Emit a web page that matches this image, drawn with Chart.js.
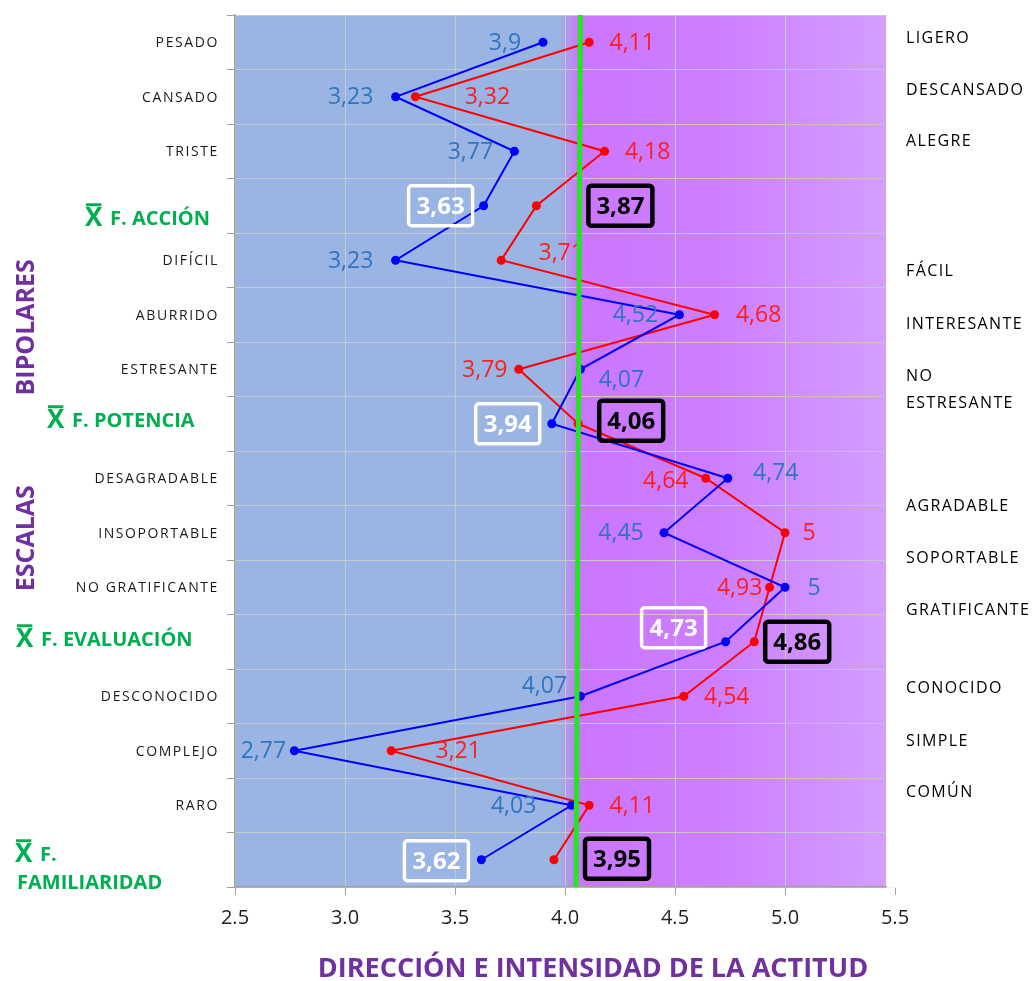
<!DOCTYPE html>
<html><head><meta charset="utf-8">
<script src="https://cdn.jsdelivr.net/npm/chart.js@4.4.1/dist/chart.umd.min.js"></script>
<style>html,body{margin:0;padding:0;background:#fff}#wrap{width:1036px;height:981px;position:relative}</style>
</head><body><div id="wrap"><canvas id="c" width="1036" height="981"></canvas></div>
<script>
// ---------- DATA ----------
const categories = ['PESADO','CANSADO','TRISTE','F. ACCIÓN','DIFÍCIL','ABURRIDO','ESTRESANTE','F. POTENCIA',
  'DESAGRADABLE','INSOPORTABLE','NO GRATIFICANTE','F. EVALUACIÓN','DESCONOCIDO','COMPLEJO','RARO','F. FAMILIARIDAD'];
const blueValues = [3.9,3.23,3.77,3.63,3.23,4.52,4.07,3.94,4.74,4.45,5,4.73,4.07,2.77,4.03,3.62];
const redValues  = [4.11,3.32,4.18,3.87,3.71,4.68,3.79,4.06,4.64,5,4.93,4.86,4.54,3.21,4.11,3.95];
const xTicks = [2.5,3.0,3.5,4.0,4.5,5.0,5.5];
const rightLabels = ['LIGERO','DESCANSADO','ALEGRE','FÁCIL','INTERESANTE',['NO','ESTRESANTE'],
  'AGRADABLE','SOPORTABLE','GRATIFICANTE','CONOCIDO','SIMPLE','COMÚN'];
const groupLabels = ['BIPOLARES','ESCALAS'];
const axisTitle = 'DIRECCIÓN E INTENSIDAD DE LA ACTITUD';
const referenceLine = [4.07, 4.05]; // top, bottom
const backgroundEnd = 5.46;

// ---------- LAYOUT (positions/styles) ----------
const rightLabelRows = [-0.07,0.88,1.82,4.2,5.17,6.37,8.51,9.48,10.42,11.85,12.82,13.77];
const groupLabelRows = [5.23,9.1];
const blueOffsets = [[-38,0],[-45,0],[-44,0],[-43,0],[-45,0],[-44,0],[41,10],[-44,0],[48,-6],[-43,0],[29,0],[-52,-14],[-36,-11],[-31,0],[-58,0],[-45,1]];
const redOffsets  = [[43,0],[72,0],[43,0],[84,0],[60,-8],[44,0],[-34,0],[53,-3],[-40,2],[24,0],[-30,0],[43,0],[43,0],[67,0],[43,0],[63,-1]];
const meanLayout = {3:{x:110,dy:13},7:{x:72,dy:-3},11:{x:41,dy:-2},15:{x:40,dy:-5,second:{x:17,dy:24}}};

const fmt = v => String(v).replace('.', ',');
function rowY(chart, i){ const y = chart.scales.y; const p0 = y.getPixelForValue(0), p1 = y.getPixelForValue(1); return p0 + i*(p1-p0); }

const decor = {
  id:'decor',
  beforeDraw(chart){
    const {ctx, chartArea:a, scales:{x}} = chart;
    const lx = x.getPixelForValue((referenceLine[0]+referenceLine[1])/2);
    const ex = x.getPixelForValue(backgroundEnd);
    const w = ex - a.left;
    const f = (lx - a.left)/w;
    const g = ctx.createLinearGradient(a.left,0,ex,0);
    g.addColorStop(0,'#9AB5E3');
    g.addColorStop(Math.max(0,f-0.03),'#9AB5E3');
    g.addColorStop(f,'#C67BF5');
    g.addColorStop(f+0.01,'#CB76FF');
    g.addColorStop(0.75,'#CD7FFF');
    g.addColorStop(1,'#D49EFF');
    ctx.save(); ctx.fillStyle = g; ctx.fillRect(a.left, a.top, w, a.bottom-a.top); ctx.restore();
  },
  beforeDatasetsDraw(chart){
    const {ctx, chartArea:a, scales:{x}} = chart;
    const ex = x.getPixelForValue(backgroundEnd);
    ctx.save(); ctx.fillStyle = '#fff'; ctx.fillRect(ex+0.5, a.top-2, a.right-ex+3, a.bottom-a.top+2.8); ctx.restore();
  },
  afterDatasetsDraw(chart){
    const {ctx, chartArea:a, scales:{x,y}} = chart;
    ctx.save();
    ctx.textBaseline = 'middle'; ctx.textAlign = 'center';
    const drawSet = (vals, offs, color, boxStyle) => {
      vals.forEach((v,i) => {
        const px = x.getPixelForValue(v), py = y.getPixelForValue(i);
        const cx = px + offs[i][0], cy = py + offs[i][1];
        const txt = fmt(v);
        if (categories[i].startsWith('F. ')) {
          ctx.font = 'bold 24px "Open Sans"';
          ctx.fillStyle = boxStyle.text;
          ctx.fillText(txt, cx, cy+1);
          ctx.strokeStyle = boxStyle.border; ctx.lineWidth = boxStyle.lw;
          ctx.beginPath(); ctx.roundRect(cx-32, cy-20, 64, 40, 3); ctx.stroke();
        } else {
          ctx.font = '23px "Open Sans"';
          ctx.fillStyle = color;
          ctx.fillText(txt, cx, cy+1);
        }
      });
    };
    drawSet(blueValues, blueOffsets, '#2E75C0', {text:'#fff', border:'#fff', lw:3.5});
    drawSet(redValues, redOffsets, '#FF1C1C', {text:'#000', border:'#000', lw:4.5});
    // reference line
    ctx.strokeStyle = '#22E622'; ctx.lineWidth = 5;
    ctx.beginPath();
    ctx.moveTo(x.getPixelForValue(referenceLine[0]), a.top);
    ctx.lineTo(x.getPixelForValue(referenceLine[1]), a.bottom);
    ctx.stroke();
    ctx.restore();
  },
  afterDraw(chart){
    const {ctx, chartArea:a, scales:{x,y}} = chart;
    ctx.save();
    ctx.textBaseline = 'middle';
    // left category labels
    categories.forEach((c,i) => {
      const py = y.getPixelForValue(i);
      if (c.startsWith('F. ')) {
        const m = meanLayout[i];
        const green = '#00B050';
        ctx.fillStyle = green; ctx.strokeStyle = green;
        ctx.letterSpacing = '0px';
        const ty = py + m.dy;
        // X with bar
        ctx.font = 'bold 26px "Open Sans"'; ctx.textAlign = 'left';
        const xw = ctx.measureText('X').width;
        const xl = m.x - 25;
        ctx.fillText('X', xl, ty);
        ctx.lineWidth = 3;
        ctx.beginPath(); ctx.moveTo(xl+1, ty-14); ctx.lineTo(xl+xw-1, ty-14); ctx.stroke();
        ctx.font = 'bold 20px "Open Sans"';
        if (m.second) {
          const parts = c.split(' ');
          ctx.fillText(parts[0], m.x, ty+1);
          ctx.fillText(parts.slice(1).join(' '), m.second.x, py + m.second.dy);
        } else {
          ctx.fillText(c, m.x, ty+1);
        }
      } else {
        ctx.font = '14px "Open Sans"'; ctx.textAlign = 'right';
        ctx.letterSpacing = '1.6px';
        ctx.fillStyle = '#1a1a1a';
        ctx.fillText(c, a.left - 16, py+1);
      }
    });
    // right labels
    ctx.font = '16px "Open Sans"'; ctx.textAlign = 'left'; ctx.fillStyle = '#000';
    ctx.letterSpacing = '1.4px';
    rightLabels.forEach((l,k) => {
      const py = rowY(chart, rightLabelRows[k]);
      const tx = a.right + 11;
      if (Array.isArray(l)) {
        ctx.fillText(l[0], tx, py-13); ctx.fillText(l[1], tx, py+14);
      } else ctx.fillText(l, tx, py);
    });
    // group labels
    ctx.letterSpacing = '0px';
    ctx.font = 'bold 25px "Open Sans"'; ctx.fillStyle = '#7030A0'; ctx.textAlign = 'center';
    groupLabels.forEach((g,k) => {
      const py = rowY(chart, groupLabelRows[k]);
      ctx.save(); ctx.translate(27, py); ctx.rotate(-Math.PI/2); ctx.fillText(g, 0, 0); ctx.restore();
    });
    // axis title
    ctx.font = 'bold 27px "Open Sans"'; ctx.fillStyle = '#7030A0'; ctx.textAlign = 'center';
    ctx.fillText(axisTitle, 593, a.bottom + 82);
    ctx.restore();
  }
};

new Chart(document.getElementById('c'), {
  type:'line',
  data:{
    labels: categories,
    datasets:[
      {data: blueValues, borderColor:'#0000FF', backgroundColor:'#0000FF', borderWidth:2, pointRadius:4.5, pointBackgroundColor:'#0000FF', pointBorderWidth:0, tension:0},
      {data: redValues, borderColor:'#FF0000', backgroundColor:'#FF0000', borderWidth:2, pointRadius:4.5, pointBackgroundColor:'#FF0000', pointBorderWidth:0, tension:0}
    ]
  },
  options:{
    responsive:false, animation:false, devicePixelRatio:1,
    indexAxis:'y',
    layout:{padding:{left:0, top:15, right:141, bottom:0}},
    plugins:{legend:{display:false}, tooltip:{enabled:false}},
    scales:{
      x:{type:'linear', min:2.5, max:5.5, position:'bottom',
        afterBuildTicks: s => { s.ticks = xTicks.map(v => ({value:v})); },
        ticks:{callback: v => Number(v).toFixed(1), font:{family:'Open Sans', size:20}, color:'#222', padding:11, maxRotation:0},
        grid:{color:'#C8C8C8', tickColor:'#A0A0A0', tickLength:8},
        border:{color:'#A0A0A0', width:1.5},
        afterFit: s => { s.height = 94; }
      },
      y:{type:'category', offset:true,
        ticks:{display:false},
        grid:{offset:true, color:'#C8C8C8', tickColor:'#A0A0A0', tickLength:8},
        border:{color:'#A0A0A0', width:1.5},
        afterFit: s => { s.width = 235; }
      }
    }
  },
  plugins:[decor]
});
</script></body></html>
